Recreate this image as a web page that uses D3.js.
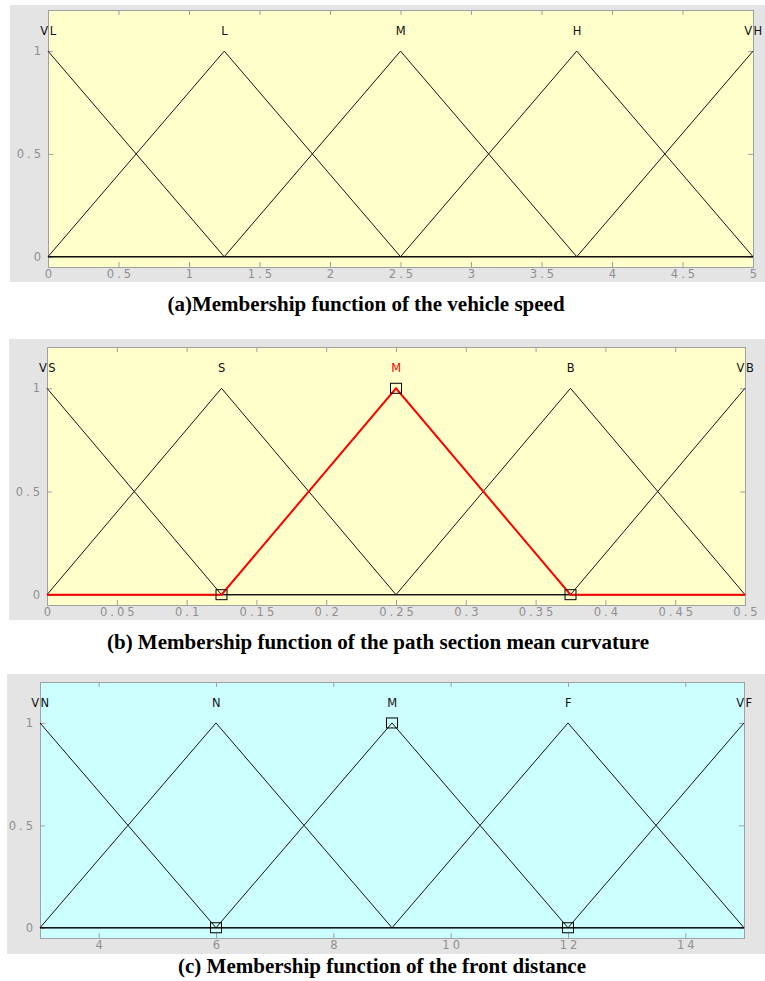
<!DOCTYPE html>
<html>
<head>
<meta charset="utf-8">
<script src="https://cdn.jsdelivr.net/npm/d3@7"></script>
<style>
  body { margin: 0; background: #fff; }
  svg { display: block; }
</style>
</head>
<body>
<div id="chart-container"></div>
<script>
/**************************************************
 * Data
 **************************************************/

// (a) vehicle speed
const speedLabels = ["VL", "L", "M", "H", "VH"];
const speedParams = [[-1.25, 0, 1.25], [0, 1.25, 2.5], [1.25, 2.5, 3.75], [2.5, 3.75, 5], [3.75, 5, 6.25]];
const speedTicks = [0, 0.5, 1, 1.5, 2, 2.5, 3, 3.5, 4, 4.5, 5];

// (b) path section mean curvature
const curvLabels = ["VS", "S", "M", "B", "VB"];
const curvParams = [[-0.125, 0, 0.125], [0, 0.125, 0.25], [0.125, 0.25, 0.375], [0.25, 0.375, 0.5], [0.375, 0.5, 0.625]];
const curvTicks = [0, 0.05, 0.1, 0.15, 0.2, 0.25, 0.3, 0.35, 0.4, 0.45, 0.5];

// (c) front distance
const distLabels = ["VN", "N", "M", "F", "VF"];
const distParams = [[0, 3, 6], [3, 6, 9], [6, 9, 12], [9, 12, 15], [12, 15, 18]];
const distTicks = [4, 6, 8, 10, 12, 14];

const yTicks = [0, 0.5, 1];

/**************************************************
 * Rendering
 **************************************************/

const W = 765, H = 981;
const svg = d3.select("#chart-container").append("svg")
  .attr("width", W).attr("height", H);

const panels = [
  { labels: speedLabels, params: speedParams, ticks: speedTicks, domain: [0, 5],
    bg: [10, 5, 765, 282], plot: [48, 10, 753, 267], fill: "#ffffcc",
    selected: -1, caption: "(a)Membership function of the vehicle speed", capX: 366, capY: 311 },
  { labels: curvLabels, params: curvParams, ticks: curvTicks, domain: [0, 0.5],
    bg: [9, 339, 765, 620], plot: [47, 347, 745, 605], fill: "#ffffcc",
    selected: 2, selColor: "#ff0000", caption: "(b) Membership function of the path section mean curvature", capX: 378, capY: 649 },
  { labels: distLabels, params: distParams, ticks: distTicks, domain: [3, 15],
    bg: [7, 674, 765, 954], plot: [40, 682, 744, 938], fill: "#ccffff",
    selected: 2, selColor: "#000000", caption: "(c) Membership function of the front distance", capX: 382, capY: 973 }
];

panels.forEach(p => drawPanel(p));

function mfPoints(par, domain) {
  // triangle drawn across the whole range, flat zero outside it
  const tri = x => {
    if (x <= par[0] || x >= par[2]) return 0;
    return x <= par[1] ? (x - par[0]) / (par[1] - par[0]) : (par[2] - x) / (par[2] - par[1]);
  };
  return [domain[0], par[0], par[1], par[2], domain[1]]
    .map(x => Math.min(Math.max(x, domain[0]), domain[1]))
    .map(x => [x, x === par[1] ? 1 : tri(x)]);
}

function drawPanel(p) {
  const [bx0, by0, bx1, by1] = p.bg;
  const [px0, py0, px1, py1] = p.plot;
  const g = svg.append("g");

  g.append("rect").attr("x", bx0).attr("y", by0)
    .attr("width", bx1 - bx0).attr("height", by1 - by0)
    .attr("fill", "#e4e4e4");

  g.append("rect").attr("x", px0).attr("y", py0)
    .attr("width", px1 - px0).attr("height", py1 - py0)
    .attr("fill", p.fill);

  const x = d3.scaleLinear().domain(p.domain).range([px0, px1]);
  const y = d3.scaleLinear().domain([-0.05, 1.2]).range([py1, py0]);

  const tickColor = "#8f8f8f";
  const font = "'DejaVu Sans', sans-serif";

  // axes (MATLAB style box, ticks pointing inward)
  const xb = g.append("g").attr("transform", `translate(0,${py1})`)
    .call(d3.axisBottom(x).tickValues(p.ticks).tickSize(-5).tickPadding(3)
      .tickFormat(d => d3.format("~g")(d)));
  const xt = g.append("g").attr("transform", `translate(0,${py0})`)
    .call(d3.axisTop(x).tickValues(p.ticks).tickSize(-5).tickFormat(""));
  const yl = g.append("g").attr("transform", `translate(${px0},0)`)
    .call(d3.axisLeft(y).tickValues(yTicks).tickSize(-5).tickPadding(4)
      .tickFormat(d => d3.format("~g")(d)));
  const yr = g.append("g").attr("transform", `translate(${px1},0)`)
    .call(d3.axisRight(y).tickValues(yTicks).tickSize(-5).tickFormat(""));

  [xb, xt, yl, yr].forEach(a => {
    a.selectAll(".domain").attr("stroke", "#a0a0a0");
    a.selectAll(".tick line").attr("stroke", "#a0a0a0");
    a.selectAll(".tick text").attr("fill", tickColor)
      .attr("font-family", font).attr("font-size", 11.5)
      .attr("letter-spacing", 3);
  });
  xb.selectAll(".tick text").attr("dx", 1.5);

  const line = d3.line().x(d => x(d[0])).y(d => y(d[1]));

  // membership functions
  p.params.forEach(par => {
    g.append("path")
      .attr("d", line(mfPoints(par, p.domain)))
      .attr("fill", "none")
      .attr("stroke", "#111")
      .attr("stroke-width", 1);
  });

  // selected MF highlighted with edit handles
  if (p.selected >= 0) {
    const par = p.params[p.selected];
    if (p.selColor !== "#000000") {
      g.append("path")
        .attr("d", line(mfPoints(par, p.domain)))
        .attr("fill", "none")
        .attr("stroke", p.selColor)
        .attr("stroke-width", 2);
    }
    const handles = [[par[0], 0], [par[1], 1], [par[2], 0]];
    g.selectAll(null).data(handles).enter().append("rect")
      .attr("x", d => x(d[0]) - 5.5)
      .attr("y", d => y(d[1]) - 5)
      .attr("width", 11).attr("height", 10)
      .attr("fill", "none").attr("stroke", "#000").attr("stroke-width", 1);
  }

  // MF names
  g.selectAll(null).data(p.labels).enter().append("text")
    .attr("x", (d, i) => x(p.params[i][1]) + 1)
    .attr("y", y(1.1))
    .attr("dy", "0.35em")
    .attr("text-anchor", "middle")
    .attr("font-family", font)
    .attr("font-size", 11.5)
    .attr("letter-spacing", 1.5)
    .attr("fill", (d, i) => i === p.selected && p.selColor === "#ff0000" ? "#ff0000" : "#111")
    .text(d => d);

  // caption
  svg.append("text")
    .attr("x", p.capX).attr("y", p.capY)
    .attr("text-anchor", "middle")
    .attr("font-family", "'Liberation Serif', 'Times New Roman', serif")
    .attr("font-weight", "bold")
    .attr("font-size", 21)
    .text(p.caption);
}
</script>
</body>
</html>
